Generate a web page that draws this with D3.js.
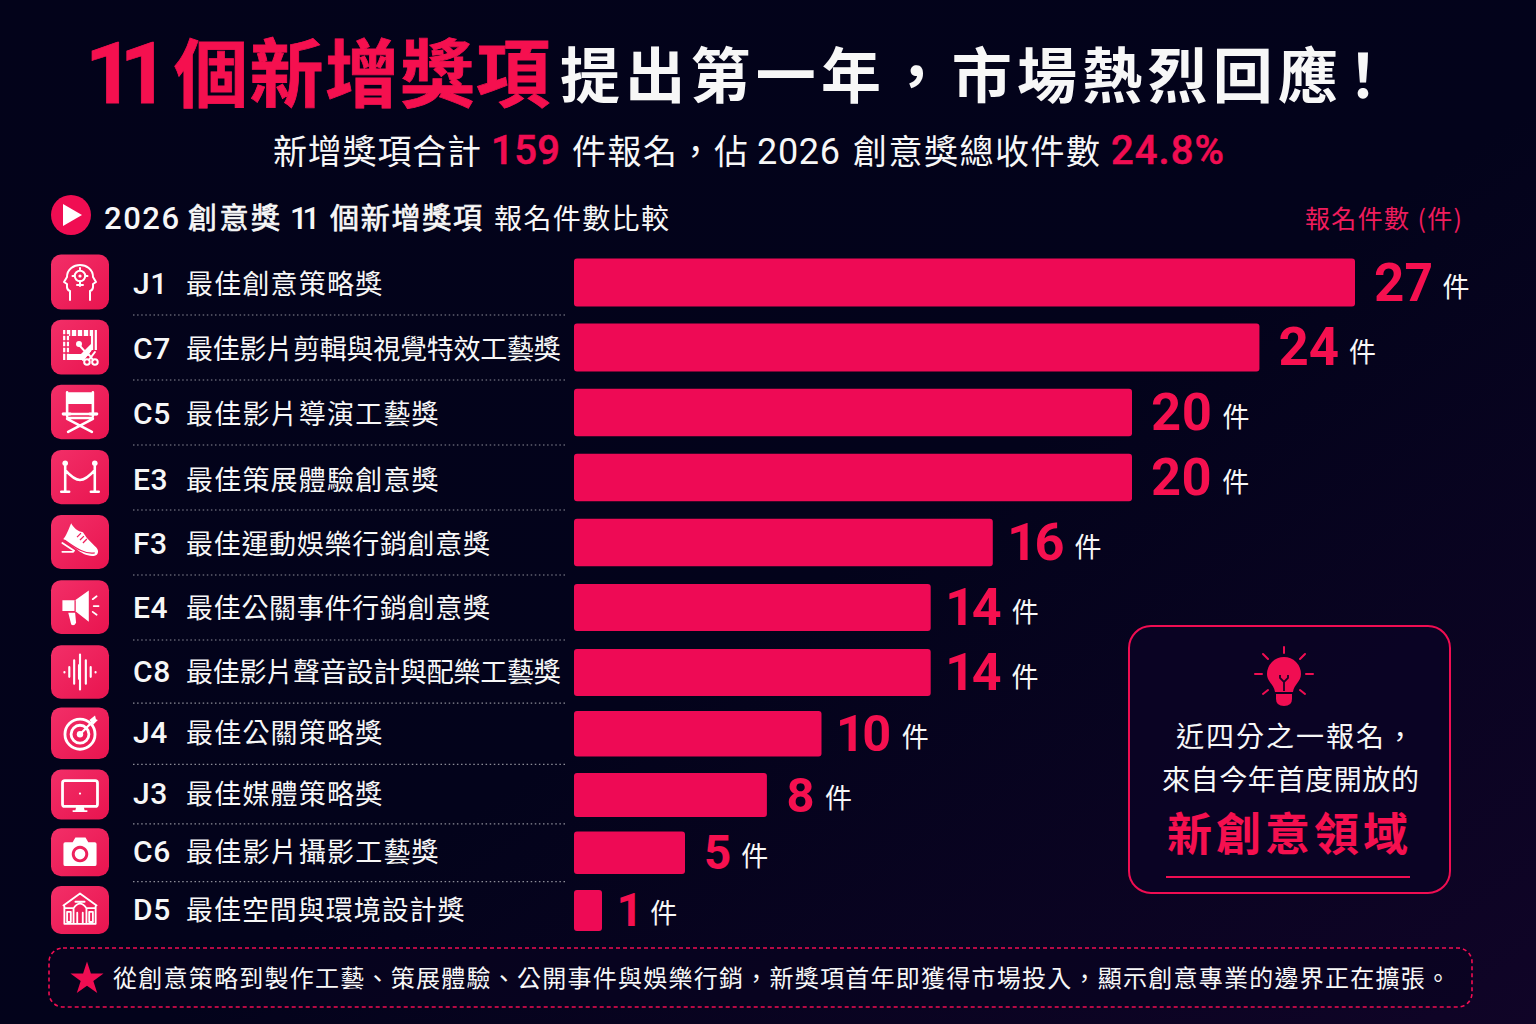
<!DOCTYPE html>
<html lang="zh-Hant">
<head>
<meta charset="utf-8">
<title>11個新增獎項</title>
<script src="https://cdn.jsdelivr.net/npm/d3@7/dist/d3.min.js"></script>
<style>
html,body{margin:0;padding:0;background:#03031a;overflow:hidden}
svg{display:block}
text{font-family:"Noto Sans CJK TC","Noto Sans CJK SC","Noto Sans",sans-serif}
</style>
</head>
<body>
<svg id="chart" width="1536" height="1024" viewBox="0 0 1536 1024"></svg>
<script>
const categoryCodes = ["J1","C7","C5","E3","F3","E4","C8","J4","J3","C6","D5"];
const categoryNames = ["最佳創意策略獎","最佳影片剪輯與視覺特效工藝獎","最佳影片導演工藝獎","最佳策展體驗創意獎","最佳運動娛樂行銷創意獎","最佳公關事件行銷創意獎","最佳影片聲音設計與配樂工藝獎","最佳公關策略獎","最佳媒體策略獎","最佳影片攝影工藝獎","最佳空間與環境設計獎"];
const entryCounts = [27,24,20,20,16,14,14,10,8,5,1];
const iconKeys = ["head","film","chair","rope","shoe","horn","wave","target","screen","camera","hall"];
const unitLabel = "件";

const PINK = "#f00d52", BAR = "#ee0a55", WHITE = "#f7f7f7", LATIN = "Roboto, 'Noto Sans', sans-serif";
const svg = d3.select("#chart");
const defs = svg.append("defs");

const bgBase = defs.append("linearGradient").attr("id","bgBase").attr("x1",0).attr("y1",0).attr("x2",1).attr("y2",1);
bgBase.append("stop").attr("offset","0").attr("stop-color","#03031a");
bgBase.append("stop").attr("offset","0.55").attr("stop-color","#03031b");
bgBase.append("stop").attr("offset","1").attr("stop-color","#100427");
const tile = defs.append("linearGradient").attr("id","tile").attr("x1",0).attr("y1",0).attr("x2",1).attr("y2",1);
tile.append("stop").attr("offset","0").attr("stop-color","#f22f68");
tile.append("stop").attr("offset","1").attr("stop-color","#e9144f");

svg.append("rect").attr("width",1536).attr("height",1024).attr("fill","url(#bgBase)");

function label(parent,x,y,str,o={}){
  const t = parent.append("text").attr("x",x).attr("y",y).text(str)
    .attr("font-size",o.size||26).attr("font-weight",o.weight||400)
    .attr("fill",o.fill||WHITE).attr("text-anchor",o.anchor||"start");
  if(o.len){t.attr("textLength",o.len).attr("lengthAdjust","spacing");}
  if(o.spacing!==undefined){t.attr("letter-spacing",o.spacing);}
  if(o.family){t.style("font-family",o.family);}
  if(o.stroke){t.attr("stroke",o.fill||WHITE).attr("stroke-width",o.stroke);}
  return t;
}

/* Title block */
label(svg,85,103,"11",{size:86,weight:700,fill:"#f5104f",family:LATIN,len:84,stroke:.8});
label(svg,174,101,"個新增獎項",{size:74,weight:700,fill:"#f5104f",len:376,stroke:.8});
label(svg,560,98,"提出第一年，市場熱烈回應",{size:60,weight:700,fill:WHITE,len:778});
label(svg,1333,98,"！",{size:60,weight:700,fill:WHITE});

const subY = 164, subSize = 34;
label(svg,273,subY,"新增獎項合計",{size:subSize,len:208});
label(svg,491,subY,"159",{size:40,weight:500,fill:PINK,family:LATIN,len:69,stroke:.5});
label(svg,572,subY,"件報名，佔",{size:subSize,len:176});
label(svg,757,subY,"2026",{size:36,family:LATIN,len:83});
label(svg,853,subY,"創意獎總收件數",{size:subSize,len:247});
label(svg,1111,subY,"24.8%",{size:40,weight:500,fill:PINK,family:LATIN,len:113,stroke:.5});

/* Section heading */
svg.append("circle").attr("cx",71).attr("cy",215).attr("r",20).attr("fill",PINK);
svg.append("path").attr("d","M-8 -11 L11 0 L-8 11 Z").attr("transform","translate(71,215)").attr("fill","#fff");
const headY = 229;
label(svg,104,headY,"2026",{size:31,weight:500,family:LATIN,len:75});
label(svg,188,headY,"創意獎",{size:29,stroke:.7,len:92});
label(svg,290,headY,"11",{size:31,weight:500,family:LATIN,len:30});
label(svg,330,headY,"個新增獎項",{size:29,stroke:.7,len:152});
label(svg,494,headY,"報名件數比較",{size:28,len:175});
label(svg,1305,228,"報名件數 (件)",{size:25,fill:"#f01c5c",len:157});

/* Scales: the reference bars follow a non-uniform value axis and tighter lower rows */
const x0 = 574;
const xScale = d3.scaleLinear().domain([1,5,15,20,27]).range([x0+28,x0+111,x0+384,x0+558,x0+781]);
const yScale = d3.scaleLinear().domain([0,6,8,10]).range([282.5,672.5,795,910.5]);
const hScale = d3.scaleLinear().domain([0,6,10]).range([48,47,41]);
const tileScale = d3.scaleLinear().domain([0,6,9,10]).range([55,53.5,48,48]);
const pitchScale = d3.scaleLinear().domain([9,11,14]).range([28.2,27.7,26.75]).clamp(true);
const textDy = d3.scaleLinear().domain([0,3,6,10]).range([11,12,9,9]);

/* Icons, drawn in a local frame centred on the tile */
const iconDraw = {
  head(g){
    g.append("path").attr("class","s").attr("d","M-10 18 V9 C-14 8 -13 4 -13 2 L-16 0 L-13 -5 C-13 -13 -6 -17 0 -17 C6 -17 13 -13 13 -5 L16 0 L13 2 C13 4 14 8 10 9 V18");
    g.append("circle").attr("class","s").attr("cy",-6).attr("r",5.2);
    g.append("circle").attr("class","f").attr("cy",-6).attr("r",1.6);
    g.append("path").attr("class","s").attr("d","M0 -1 V4 M-3 3 H3 M0 -14 V-12.5 M-7.5 -6 H-6 M6 -6 H7.5");
  },
  film(g){
    g.append("path").attr("class","f").attr("fill-rule","evenodd").attr("d","M-17 -17 H17 V3 L12 3 L8 8 L3 13 H-17 Z M-11 -11 V7 H1 L11 -3 V-11 Z");
    g.append("path").attr("class","b").attr("stroke-width",1.5).attr("d","M-14 -17 V13 M14 -17 V3 M-17 -12 H-11 M-17 -6 H-11 M-17 0 H-11 M-17 6 H-11 M-9 -17 V-11 M-3 -17 V-11 M3 -17 V-11 M9 -17 V-11");
    g.append("circle").attr("class","f").attr("cx",-1).attr("cy",-3).attr("r",3);
    g.append("path").attr("class","s").attr("d","M0 -1 L8 8 M10 4 L3 13");
    g.append("circle").attr("class","s").attr("cx",7).attr("cy",15).attr("r",2.8);
    g.append("circle").attr("class","s").attr("cx",15).attr("cy",15).attr("r",2.8);
    g.append("path").attr("class","s").attr("d","M9 13 L15 5 M13 13 L7 5");
  },
  chair(g){
    g.append("path").attr("class","f").attr("d","M-12 -20 H12 L14 -8 H-14 Z");
    g.append("path").attr("class","s").attr("stroke-width",2.6).attr("d","M-13 -20 V4 M13 -20 V4 M-17 2 H17 M-13 6 H13 M-13 7 L12 20 M13 7 L-12 20");
    g.append("path").attr("class","s").attr("stroke-width",3).attr("d","M-17 2 H-10 M10 2 H17");
  },
  rope(g){
    g.append("circle").attr("class","f").attr("cx",-15).attr("cy",-14).attr("r",2.8);
    g.append("circle").attr("class","f").attr("cx",15).attr("cy",-14).attr("r",2.8);
    g.append("path").attr("class","s").attr("stroke-width",2.6).attr("d","M-15 -11 V14 M15 -11 V14 M-15 -7 Q-6 3 0 3 Q6 3 15 -7 M-19 15 H-11 M11 15 H19");
  },
  shoe(g){
    g.append("path").attr("class","f").attr("d","M-9 -19 C-7 -15 -2 -10 3 -10 L7 -4 L15 4 C20 8 19 13 15 14 C8 15 2 12 -4 7 L-17 -3 C-14 -6 -12 -12 -9 -19 Z");
    g.append("path").attr("class","b").attr("stroke-width",1.3).attr("d","M1 -9 L-3 -5 M4 -6 L0 -2 M7 -3 L3 1 M-16 -2 C-8 3 3 13 15 11");
    g.append("path").attr("class","s").attr("stroke-width",1.8).attr("d","M-18 1 L-6 9 M-18 10 H-7");
  },
  horn(g){
    g.append("path").attr("class","f").attr("d","M-18 -7 H-5 L9 -17 V15 L-5 4 H-18 Q-18 -1 -18 -7 Z M-12 6 H-5 L-4 16 Q-6 20 -9 18 Z");
    g.append("path").attr("class","b").attr("stroke-width",1.3).attr("d","M-5 -7 V4");
    g.append("path").attr("class","s").attr("stroke-width",1.8).attr("d","M13 -8 L17 -11 M14 -1 H19 M13 5 L17 8");
  },
  wave(g){
    g.append("path").attr("class","s").attr("stroke-width",2.2).attr("d","M-16 0 V0.5 M-11 -5 V5 M-6 -12 V12 M-1 -7 V7 M0 -18 V18 M6 -12 V12 M11 -5 V5 M16 0 V0.5");
  },
  target(g){
    g.append("circle").attr("class","s").attr("r",16).attr("stroke-width",3).attr("cy",1);
    g.append("circle").attr("class","s").attr("r",9.5).attr("stroke-width",3).attr("cy",1);
    g.append("circle").attr("class","f").attr("r",3.4).attr("cy",1);
    g.append("path").attr("class","s").attr("stroke-width",2.4).attr("d","M0 1 L14 -13");
    g.append("path").attr("class","f").attr("d","M10 -14 L16 -19 L17 -15 L19 -14 L14 -9 Z");
  },
  screen(g){
    g.append("rect").attr("class","s").attr("stroke-width",3).attr("x",-19).attr("y",-15).attr("width",38).attr("height",28).attr("rx",2.5);
    g.append("circle").attr("class","f").attr("r",1.2).attr("cy",-1);
    g.append("path").attr("class","f").attr("d","M-4 13 H4 L5 17 H8 V19 H-8 V17 H-5 Z");
  },
  camera(g){
    g.append("path").attr("class","f").attr("fill-rule","evenodd").attr("d","M-16 -11 H-8 L-5 -16 H6 L9 -11 H16 Q18 -11 18 -9 V13 Q18 15 16 15 H-16 Q-18 15 -18 13 V-9 Q-18 -11 -16 -11 Z M0 -7 A9 9 0 1 0 0.01 -7 Z");
    g.append("circle").attr("class","f").attr("cy",2).attr("r",5.8);
  },
  hall(g){
    g.append("path").attr("class","s").attr("stroke-width",2).attr("d","M-18 -5 L0 -18 L18 -5 M-17 -4 V15 H17 V-4 M-17 -2 H-8 M8 -2 H17 M-14 2 V13 H-10 V2 Z M14 2 V13 H10 V2 Z M-7 15 V-2 Q0 -12 7 -2 V15 M-3 15 V3 M3 15 V3 M-5 -9 H5");
  }
};

const rows = svg.append("g").selectAll("g").data(entryCounts).join("g").attr("class","row");

rows.each(function(v,i){
  const row = d3.select(this), cy = yScale(i), h = hScale(i), th = tileScale(i);
  const ig = row.append("g").attr("transform",`translate(80,${cy-0.5})`);
  ig.append("rect").attr("x",-29).attr("y",-th/2).attr("width",58).attr("height",th).attr("rx",10).attr("fill","url(#tile)");
  const inner = ig.append("g").attr("transform",`scale(${Math.max(0.92,th/55)})`);
  iconDraw[iconKeys[i]](inner);
  inner.selectAll(".s").attr("fill","none").attr("stroke","#fff").attr("stroke-linecap","round").attr("stroke-linejoin","round").each(function(){
    const s=d3.select(this); if(!s.attr("stroke-width")) s.attr("stroke-width",2);
  });
  inner.selectAll(".f").attr("fill","#fff").attr("stroke","none");
  inner.selectAll(".b").attr("fill","none").attr("stroke","#ee1f5c");

  const ty = cy+textDy(i);
  label(row,133,ty,categoryCodes[i],{size:30,weight:500,family:LATIN,spacing:0.6});
  const name = categoryNames[i], size = 27;
  label(row,186,ty,name,{size,spacing:pitchScale(name.length)-size});

  row.append("rect").attr("x",x0).attr("y",cy-h/2).attr("width",xScale(v)-x0).attr("height",h).attr("rx",3).attr("fill",BAR);

  const numSize = h+5;
  const numStr = String(v);
  const numX = xScale(v)+(numStr[0]==="1"?16:19);
  const num = label(row,numX,cy+numSize*0.34,numStr,{size:numSize,weight:700,fill:"#f5104f",family:LATIN});
  num.style("font-feature-settings","'pnum' 1").style("font-variant-numeric","proportional-nums");
  const w = num.node().getComputedTextLength();
  label(row,numX+w+10,cy+h*0.3,unitLabel,{size:27});

  if(i<entryCounts.length-1){
    const sy = (cy+yScale(i+1))/2;
    row.append("line").attr("x1",133).attr("x2",565).attr("y1",sy).attr("y2",sy)
      .attr("stroke","#8d8d98").attr("stroke-width",1.2).attr("stroke-dasharray","1.5 2.6");
  }
});

/* Callout */
const callout = svg.append("g");
callout.append("rect").attr("x",1129).attr("y",626).attr("width",321).attr("height",267).attr("rx",22)
  .attr("fill","#0a0325").attr("fill-opacity",.85).attr("stroke",PINK).attr("stroke-width",2);
const bulb = callout.append("g").attr("transform","translate(1284,675)");
bulb.append("path").attr("fill",PINK).attr("d","M-17 -1 A17 17 0 1 1 17 -1 C17 7 10 9 9 17 H-9 C-10 9 -17 7 -17 -1 Z");
bulb.append("path").attr("fill",PINK).attr("d","M-8 19 H8 V24 Q8 31 0 31 Q-8 31 -8 24 Z");
bulb.append("path").attr("fill","none").attr("stroke","#1a0428").attr("stroke-width",1.8).attr("d","M0 16 V7 M-4 0 L-4 3 L0 7 L4 3 L4 0");
bulb.append("path").attr("fill","none").attr("stroke",PINK).attr("stroke-width",2).attr("stroke-linecap","round")
  .attr("d","M0 -28 V-22 M-21 -21 L-16 -16 M21 -21 L16 -16 M-29 -1 H-22 M29 -1 H22 M-21 19 L-16 15 M21 19 L16 15");
label(callout,1176,747,"近四分之一報名，",{size:28,len:238});
label(callout,1162,790,"來自今年首度開放的",{size:28,len:257});
label(callout,1167,851,"新創意領域",{size:45,weight:700,fill:"#f5104f",len:241});
callout.append("line").attr("x1",1166).attr("x2",1410).attr("y1",877).attr("y2",877).attr("stroke",PINK).attr("stroke-width",1.8);

/* Footer */
const foot = svg.append("g");
foot.append("rect").attr("x",49).attr("y",948).attr("width",1423).attr("height",59).attr("rx",14)
  .attr("fill","#08031f").attr("fill-opacity",.6).attr("stroke",PINK).attr("stroke-width",1.6).attr("stroke-dasharray","4 3");
const star = d3.symbol().type(d3.symbolStar).size(340);
foot.append("path").attr("d",star()).attr("transform","translate(87,979)").attr("fill",PINK);
label(foot,113,987,"從創意策略到製作工藝、策展體驗、公開事件與娛樂行銷，新獎項首年即獲得市場投入，顯示創意專業的邊界正在擴張。",{size:24,len:1337});
</script>
</body>
</html>
